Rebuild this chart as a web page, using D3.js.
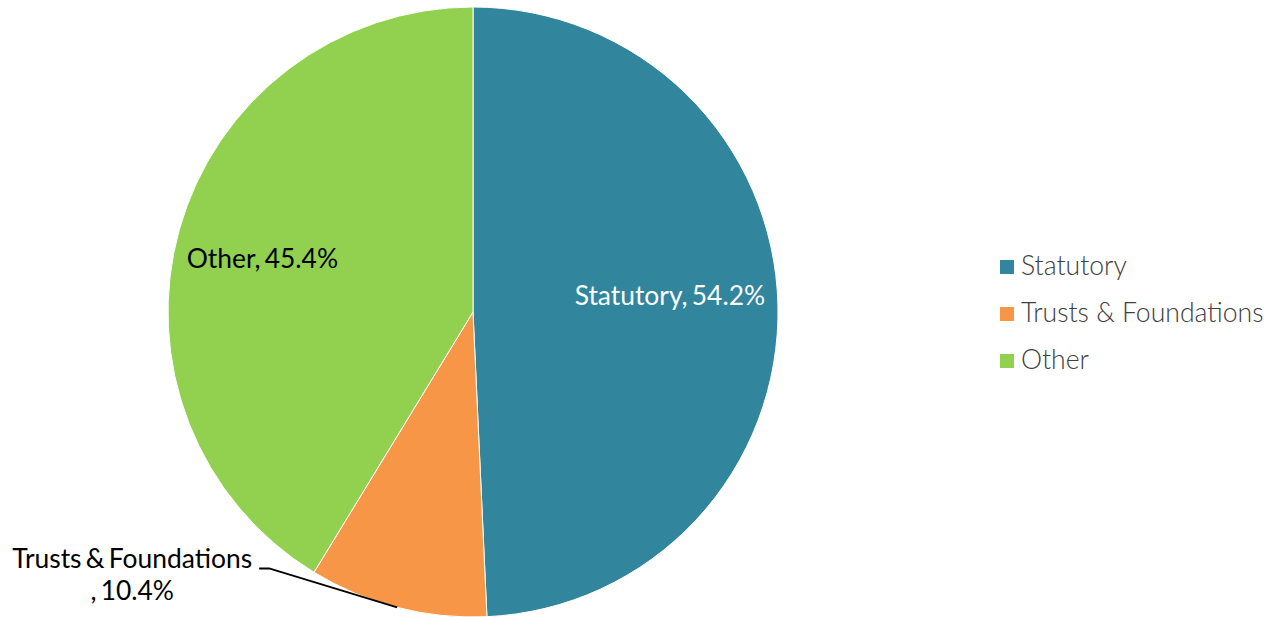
<!DOCTYPE html>
<html><head><meta charset="utf-8">
<script src="https://cdn.jsdelivr.net/npm/d3@7"></script>
<style>body{margin:0;background:#fff}svg{display:block}text{font-family:Lato,"Open Sans",sans-serif;font-weight:300}
.lbl{font-weight:400;word-spacing:-2.5px}</style>
</head><body>
<svg id="c" width="1285" height="617"></svg>
<script>
const categories = ["Statutory", "Trusts & Foundations", "Other"];
const values = [54.2, 10.4, 45.4];
const labels = ["Statutory, 54.2%", "Trusts & Foundations, 10.4%", "Other, 45.4%"];
const colors = ["#31859C", "#F79646", "#92D050"];

const svg = d3.select("#c");
const cx = 473, cy = 312, R = 305;
const FS = 26.6, LFS = 26.4;
const g = svg.append("g").attr("transform", `translate(${cx},${cy})`);
const pie = d3.pie().sort(null).value(d => d);
const arcs = pie(values);
const arc = d3.arc().innerRadius(0).outerRadius(R);
g.selectAll("path").data(arcs).join("path")
  .attr("d", arc).attr("fill", (d,i) => colors[i])
  .attr("stroke", "#fff").attr("stroke-width", 1);

const labelArc = d3.arc().innerRadius(R*0.69).outerRadius(R*0.69);
// Statutory (inside, white)
{
  const c = labelArc.centroid(arcs[0]);
  g.append("text").attr("class","lbl").attr("x", c[0]-13.5).attr("y", c[1]-2).attr("text-anchor","middle")
   .attr("font-size",LFS).attr("fill","#fff").text(labels[0]);
}
// Other (inside, black)
{
  const c = labelArc.centroid(arcs[2]);
  g.append("text").attr("class","lbl").attr("x", c[0]-8).attr("y", c[1]+13).attr("text-anchor","middle")
   .attr("font-size",LFS).attr("fill","#000").text(labels[2]);
}
// Trusts & Foundations (outside with leader)
{
  const ang = (arcs[1].startAngle + arcs[1].endAngle)/2;
  const p0 = [R*Math.sin(ang), -R*Math.cos(ang)];
  const p1 = [p0[0]-128, p0[1]-39];
  const p2 = [p1[0]-10, p1[1]];
  g.append("polyline").attr("points", [p0,p1,p2].map(p=>p.join(",")).join(" "))
   .attr("fill","none").attr("stroke","#000").attr("stroke-width",2);
  const parts = labels[1].split(", ");
  const t = g.append("text").attr("class","lbl").attr("font-size",LFS).attr("fill","#000").attr("text-anchor","middle");
  t.append("tspan").attr("x", p2[0]-127).attr("y", p2[1]).text(parts[0]);
  t.append("tspan").attr("x", p2[0]-127).attr("y", p2[1]+32).text(", " + parts[1]);
}

// Legend
const lg = svg.append("g").attr("transform","translate(1000,267)");
const items = lg.selectAll("g").data(categories).join("g")
  .attr("transform",(d,i)=>`translate(0,${i*47})`);
items.append("rect").attr("x",0).attr("y",-7).attr("width",14).attr("height",14)
  .attr("fill",(d,i)=>colors[i]);
items.append("text").attr("x",21).attr("y",8)
  .attr("font-size",FS).attr("fill","#404040").text(d=>d);
</script>
</body></html>
